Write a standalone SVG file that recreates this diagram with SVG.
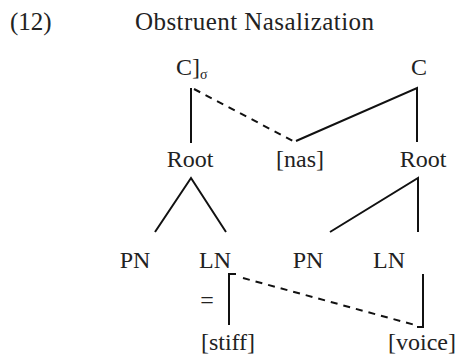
<svg xmlns="http://www.w3.org/2000/svg" width="463" height="362" viewBox="0 0 463 362">
<style>
text{font-family:"Liberation Serif","Times New Roman",serif;fill:#222;font-size:24px}
.m{text-anchor:middle}
.t{font-size:25px}
.s{stroke:#111;stroke-width:2;fill:none}
.d{stroke:#111;stroke-width:2;fill:none;stroke-dasharray:7,6}
</style>
<rect width="463" height="362" fill="#fff"/>
<g id="title">
<text class="t" x="10" y="30">(12)</text>
<text class="t" x="135" y="30" textLength="239">Obstruent Nasalization</text>
</g>
<g id="c-left"><text x="176" y="75">C]<tspan font-size="14" dy="4">σ</tspan></text></g>
<g id="c-right"><text class="m" x="419" y="75">C</text></g>
<g id="root-left"><text class="m" x="190" y="167">Root</text></g>
<g id="nas"><text class="m" x="300" y="167">[nas]</text></g>
<g id="root-right"><text class="m" x="423" y="167">Root</text></g>
<g id="pn-left"><text class="m" x="135" y="268">PN</text></g>
<g id="ln-left"><text class="m" x="215" y="268">LN</text></g>
<g id="pn-right"><text class="m" x="308" y="268">PN</text></g>
<g id="ln-right"><text class="m" x="389" y="268">LN</text></g>
<g id="eq"><text class="m" x="207" y="308">=</text></g>
<g id="stiff"><text class="m" x="228" y="350">[stiff]</text></g>
<g id="voice"><text class="m" x="422" y="350">[voice]</text></g>
<g id="connectors">
<path class="s" d="M191,88V143"/>
<path class="d" d="M194,89L293,141"/>
<path class="s" d="M296,141L417,88V142"/>
<path class="s" d="M155,232L191,178L226,232"/>
<path class="s" d="M330,232L418,178V232"/>
<path class="s" d="M229,325V274H236"/>
<path class="d" d="M243,278L415,325"/>
<path class="s" d="M417,327H423V274"/>
</g>
</svg>
